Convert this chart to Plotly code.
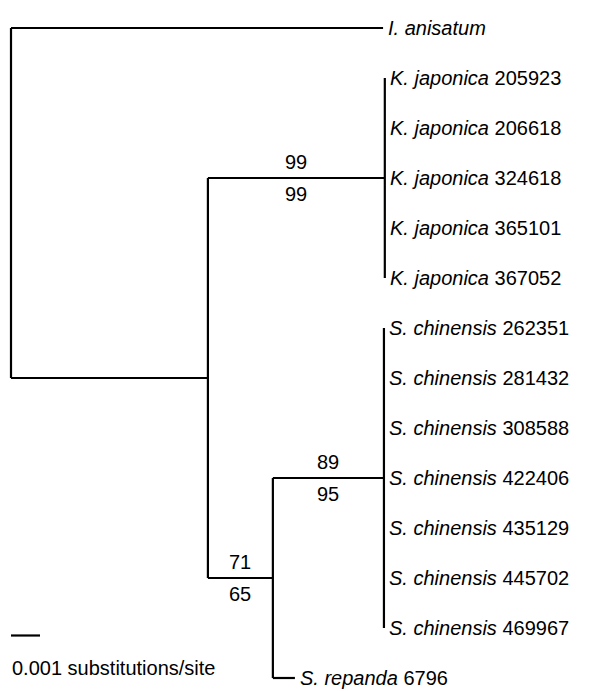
import plotly.graph_objects as go

# ---- data (branch lengths in units of 0.001 substitutions/site) ----
outgroup = "I. anisatum"
kj_ids = ["205923", "206618", "324618", "365101", "367052"]
sc_ids = ["262351", "281432", "308588", "422406", "435129", "445702", "469967"]
sr_id = "6796"

bl_root_outgroup = 12.83
bl_root_ingroup = 6.79
bl_ingroup_kj = 6.10
bl_ingroup_snode = 2.24
bl_snode_sc = 3.83
bl_snode_sr = 0.76

support_kj = ("99", "99")
support_sc = ("89", "95")
support_snode = ("71", "65")
scale_len = 1.0
scale_text = "0.001 substitutions/site"

# ---- layout of the tree ----
n_tips = 1 + len(kj_ids) + len(sc_ids) + 1
tip_y = list(range(n_tips))
y_out = 0
y_kj = tip_y[1:1 + len(kj_ids)]
y_sc = tip_y[1 + len(kj_ids):1 + len(kj_ids) + len(sc_ids)]
y_sr = tip_y[-1]

x_root = 0.0
x_out = x_root + bl_root_outgroup
x_in = x_root + bl_root_ingroup
x_kj = x_in + bl_ingroup_kj
x_sn = x_in + bl_ingroup_snode
x_sc = x_sn + bl_snode_sc
x_sr = x_sn + bl_snode_sr

ymid_kj = (y_kj[0] + y_kj[-1]) / 2
ymid_sc = (y_sc[0] + y_sc[-1]) / 2
y_sn_branch = (ymid_sc + y_sr) / 2
y_in_branch = (ymid_kj + y_sn_branch) / 2
y_scale = 12.15

xs, ys = [], []
def seg(x0, y0, x1, y1):
    xs.extend([x0, x1, None]); ys.extend([y0, y1, None])

# root
seg(x_root, y_out, x_root, y_in_branch)
seg(x_root, y_out, x_out, y_out)
seg(x_root, y_in_branch, x_in, y_in_branch)
# ingroup node
seg(x_in, ymid_kj, x_in, y_sn_branch)
seg(x_in, ymid_kj, x_kj, ymid_kj)
seg(x_kj, y_kj[0], x_kj, y_kj[-1])
seg(x_in, y_sn_branch, x_sn, y_sn_branch)
# S node
seg(x_sn, ymid_sc, x_sn, y_sr)
seg(x_sn, ymid_sc, x_sc, ymid_sc)
seg(x_sc, y_sc[0], x_sc, y_sc[-1])
seg(x_sn, y_sr, x_sr, y_sr)

fig = go.Figure()
fig.add_trace(go.Scatter(x=xs, y=ys, mode="lines",
                         line=dict(color="black", width=2.2),
                         hoverinfo="skip", showlegend=False))
# scale bar
fig.add_trace(go.Scatter(x=[0, scale_len], y=[y_scale, y_scale], mode="lines",
                         line=dict(color="black", width=2.2),
                         hoverinfo="skip", showlegend=False))

FONT = "Liberation Sans, Arial, sans-serif"
fs = 20
ann = []
def tip(x, y, html):
    ann.append(dict(x=x, y=y, text=html, showarrow=False, xanchor="left",
                    yanchor="middle", xshift=3, font=dict(size=fs, color="black", family=FONT)))

tip(x_out, y_out, "<i>I. anisatum</i>")
for yy, i in zip(y_kj, kj_ids):
    tip(x_kj, yy, "<i>K. japonica</i> " + i)
for yy, i in zip(y_sc, sc_ids):
    tip(x_sc, yy, "<i>S. chinensis</i> " + i)
tip(x_sr, y_sr, "<i>S. repanda</i> " + sr_id)

def support(x0, x1, y, pair):
    for txt, sh in zip(pair, (16, -16)):
        ann.append(dict(x=(x0 + x1) / 2, y=y, text=txt, showarrow=False,
                        xanchor="center", yanchor="middle", yshift=sh,
                        font=dict(size=fs, color="black", family=FONT)))

support(x_in, x_kj, ymid_kj, support_kj)
support(x_sn, x_sc, ymid_sc, support_sc)
support(x_in, x_sn, y_sn_branch, support_snode)

ann.append(dict(x=0, y=y_scale, text=scale_text, showarrow=False, xanchor="left",
                yanchor="middle", yshift=-32, xshift=-1,
                font=dict(size=fs, color="black", family=FONT)))

# page body has an 8px margin: figure occupies 599x683 starting at (8, 8)
fig.update_layout(
    width=599, height=683,
    margin=dict(l=0, r=0, t=0, b=0),
    paper_bgcolor="white", plot_bgcolor="white",
    annotations=ann,
    xaxis=dict(visible=False, range=[-3 / 29, 596 / 29]),
    yaxis=dict(visible=False, range=[(683 - 20) / 50.0, -20 / 50.0]),
)
fig.write_html("out.html")
